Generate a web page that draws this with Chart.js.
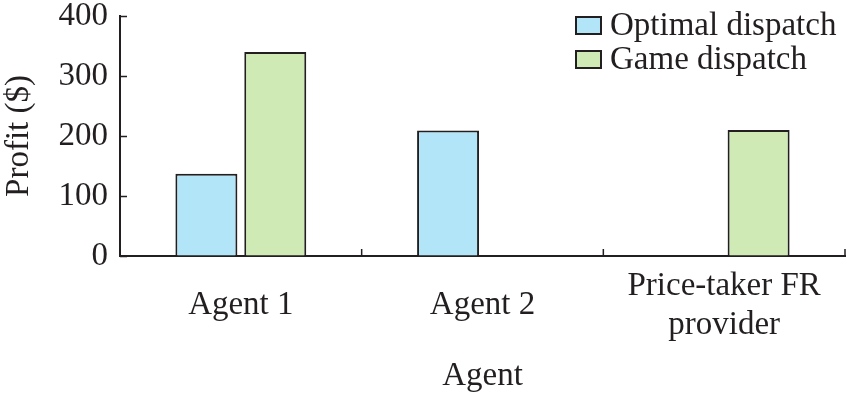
<!DOCTYPE html>
<html>
<head>
<meta charset="utf-8">
<script src="https://cdn.jsdelivr.net/npm/chart.js@4/dist/chart.umd.min.js"></script>
<style>
html,body{margin:0;padding:0;background:#fff;}
#wrap{width:847px;height:397px;}
</style>
</head>
<body>
<div id="wrap"><canvas id="c" width="847" height="397"></canvas></div>
<script>
const categories = ["Agent 1", "Agent 2", ["Price-taker FR", "provider"]];
const seriesNames = ["Optimal dispatch", "Game dispatch"];
const optimalValues = [137, 209, 0];
const gameValues = [340, 0, 210];
const yTicks = [0, 100, 200, 300, 400];

const FONT = "'Liberation Serif', 'Times New Roman', serif";
const INK = "#231f20";

const innerTicks = {
  id: 'innerTicks',
  afterDraw(chart) {
    const ctx = chart.ctx;
    const xs = chart.scales.x, ys = chart.scales.y;
    const a = chart.chartArea;
    ctx.save();
    ctx.strokeStyle = INK;
    ctx.lineWidth = 1.5;
    ctx.beginPath();
    yTicks.forEach(v => {
      const py = Math.round(ys.getPixelForValue(v)) + 0.5;
      ctx.moveTo(a.left, py);
      ctx.lineTo(a.left + 7, py);
    });
    for (let i = 0; i <= categories.length; i++) {
      const px = xs.getPixelForValue(i - 0.5);
      ctx.moveTo(px, a.bottom);
      ctx.lineTo(px, a.bottom - 7);
    }
    ctx.stroke();
    // legend
    const ds = chart.data.datasets;
    ctx.font = "33px " + FONT;
    ctx.textBaseline = 'middle';
    ctx.textAlign = 'left';
    ds.forEach((d, i) => {
      const y0 = 17 + i * 34;
      ctx.fillStyle = d.backgroundColor;
      ctx.fillRect(576, y0, 25, 17);
      ctx.lineWidth = 2;
      ctx.strokeStyle = INK;
      ctx.strokeRect(576, y0, 25, 17);
      ctx.fillStyle = INK;
      ctx.fillText(d.label, 610, y0 + 9);
    });
    ctx.restore();
  }
};

new Chart(document.getElementById('c'), {
  type: 'bar',
  data: {
    labels: categories,
    datasets: [
      { label: seriesNames[0], data: optimalValues, backgroundColor: '#b3e5f8', borderColor: INK, borderWidth: 2 },
      { label: seriesNames[1], data: gameValues, backgroundColor: '#cfeab5', borderColor: INK, borderWidth: 2 }
    ]
  },
  options: {
    responsive: false,
    animation: false,
    events: [],
    layout: { padding: { left: 0, right: 2, top: 0, bottom: 0 } },
    datasets: { bar: { categoryPercentage: 0.57, barPercentage: 0.9 } },
    plugins: { legend: { display: false }, tooltip: { enabled: false } },
    scales: {
      x: {
        grid: { display: true, drawOnChartArea: false, drawTicks: false },
        border: { display: true, color: INK, width: 2 },
        ticks: { color: INK, font: { family: FONT, size: 33, lineHeight: 1.2 }, padding: 30, maxRotation: 0, autoSkip: false, crossAlign: 'center' },
        afterFit(s) { s.height = 141; s.paddingLeft = 0; s.paddingRight = 0; },
        title: { display: true, text: 'Agent', color: INK, font: { family: FONT, size: 33 }, padding: { top: 0, bottom: 1 } }
      },
      y: {
        min: 0, max: 400,
        grid: { display: true, drawOnChartArea: false, drawTicks: false },
        border: { display: true, color: INK, width: 2 },
        ticks: { color: INK, font: { family: FONT, size: 33 }, padding: 12, stepSize: 100 },
        afterFit(s) { s.width = 120; s.paddingTop = 16; s.paddingBottom = 0; },
        title: { display: true, text: 'Profit ($)', color: INK, font: { family: FONT, size: 33 }, padding: { top: 0, bottom: 0 } }
      }
    }
  },
  plugins: [innerTicks]
});
</script>
</body>
</html>
